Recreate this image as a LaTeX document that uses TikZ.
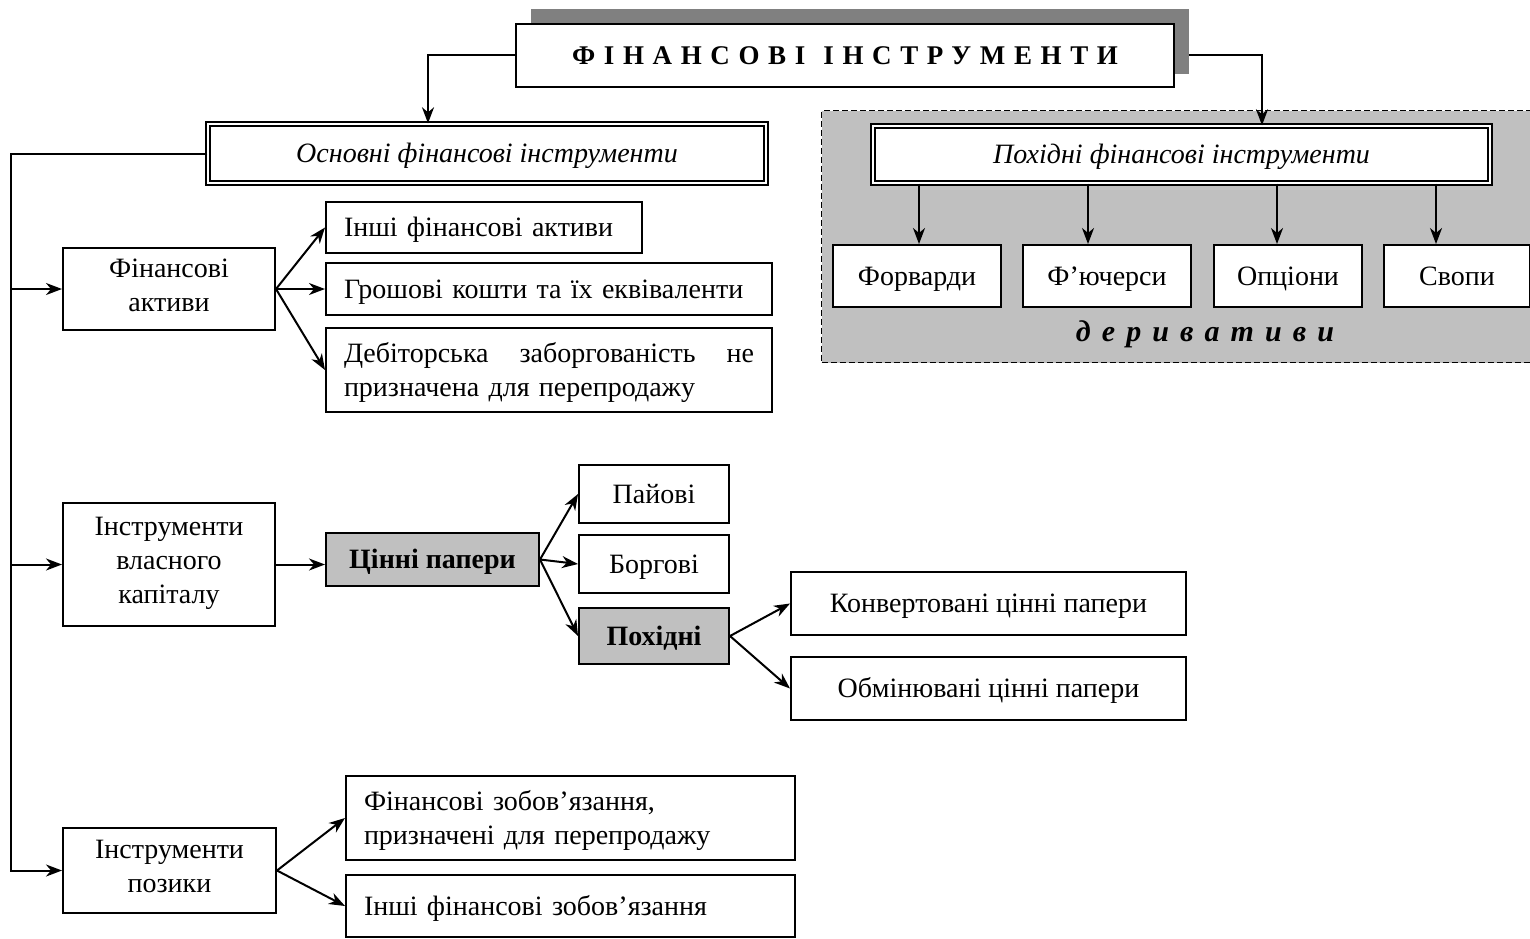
\documentclass[tikz,border=0pt]{standalone}
\usepackage{fontspec}
\setmainfont{Liberation Serif}
\usetikzlibrary{arrows.meta}
\definecolor{areagray}{HTML}{C0C0C0}
\definecolor{boxgray}{HTML}{C0C0C0}
\definecolor{shadowgray}{HTML}{808080}
\newcommand\topstrut{\rule{0pt}{26pt}}
\newcommand\botstrut{\rule[-8pt]{0pt}{8pt}}
\begin{document}
\begin{tikzpicture}[x=1pt,y=-1pt,
  txt/.style={font=\fontsize{28}{34}\selectfont},
  box/.style={draw, line width=2pt, fill=white, inner sep=0pt, txt, align=center,
    execute at begin node=\topstrut, execute at end node=\botstrut},
  lbox/.style={box, align=left},
  gbox/.style={box, fill=boxgray, font=\fontsize{28}{34}\selectfont\bfseries},
  dbl/.style={draw, double, line width=1.4pt, double distance=2.6pt, fill=white, inner sep=0pt,
    font=\fontsize{28}{34}\selectfont\itshape, execute at begin node=\topstrut, execute at end node=\botstrut},
  arr/.style={line width=2pt, -{Stealth[length=16pt,width=12pt,inset=5pt]}}]
\useasboundingbox (0,0) rectangle (1530,938);
% title
\fill[shadowgray] (531,9) rectangle (1189,74);
\node[box, minimum width=658, minimum height=63, font=\fontsize{27}{30}\selectfont\bfseries\addfontfeature{LetterSpace=32}] (title) at (845,55) {ФІНАНСОВІ\hspace{18pt}ІНСТРУМЕНТИ};
% derivative area
\node[draw, line width=1.3pt, dash pattern=on 6pt off 3pt, fill=areagray, minimum width=724, minimum height=252, anchor=north west, inner sep=0pt] (area) at (821,110) {};
\node[dbl, minimum width=617, minimum height=57] (poh) at (1181.5,154.5) {Похідні фінансові інструменти};
\node[box, minimum width=168, minimum height=62] (fw) at (917,276) {Форварди};
\node[box, minimum width=168, minimum height=62] (fu) at (1107,276) {Ф’ючерси};
\node[box, minimum width=148, minimum height=62] (op) at (1288,276) {Опціони};
\node[box, minimum width=146, minimum height=62] (sv) at (1457,276) {Свопи};
\node[font=\fontsize{30}{32}\selectfont\bfseries\itshape\addfontfeature{LetterSpace=37}] (der) at (1205,334) {деривативи};
% main
\node[dbl, minimum width=558, minimum height=59] (osn) at (487,153.5) {Основні фінансові інструменти};
\node[box, minimum width=212, minimum height=82] (fa) at (169,289) {Фінансові\\активи};
\node[lbox, minimum width=316, minimum height=51, text width=280] (ifa) at (484,227.5) {Інші фінансові активи};
\node[lbox, minimum width=446, minimum height=52, text width=410] (gk) at (549,289) {Грошові кошти та їх еквіваленти};
\node[lbox, minimum width=446, minimum height=84, text width=410] (db) at (549,370) {Дебіторська\hfill заборгованість\hfill не\\призначена для перепродажу};
\node[box, minimum width=212, minimum height=123] (ivk) at (169,564.5) {Інструменти\\власного\\капіталу};
\node[gbox, minimum width=213, minimum height=53] (cp) at (432.5,559.5) {Цінні папери};
\node[box, minimum width=150, minimum height=58] (pa) at (654,494) {Пайові};
\node[box, minimum width=150, minimum height=58] (bo) at (654,564) {Боргові};
\node[gbox, minimum width=150, minimum height=56] (ph) at (654,636) {Похідні};
\node[box, minimum width=395, minimum height=63] (ko) at (988.5,603.5) {Конвертовані цінні папери};
\node[box, minimum width=395, minimum height=63] (ob) at (988.5,688.5) {Обмінювані цінні папери};
\node[box, minimum width=213, minimum height=85] (pz) at (169.5,870.5) {Інструменти\\позики};
\node[lbox, minimum width=449, minimum height=84, text width=413] (fz) at (570.5,818) {Фінансові зобов’язання,\\призначені для перепродажу};
\node[lbox, minimum width=449, minimum height=62, text width=413] (iz) at (570.5,906) {Інші фінансові зобов’язання};
\coordinate (bus) at (11,0);
% connectors
\draw[arr] (title.west) -| ([xshift=-59pt]osn.north);
\draw[arr] ([xshift=14pt]title.east) -| ([xshift=80.5pt]poh.north);
\foreach \n/\dx in {fw/2,fu/-19,op/-11,sv/-21}
  \draw[arr] ([xshift=\dx pt]\n.north |- poh.south) -- ([xshift=\dx pt]\n.north);
\draw[arr] (osn.west) -- (osn.west -| bus) -- (bus |- pz.west) -- (pz.west);
\draw[arr] (bus |- fa.west) -- (fa.west);
\draw[arr] (bus |- ivk.west) -- (ivk.west);
\foreach \t in {ifa,gk,db} \draw[arr] (fa.east) -- (\t.west);
\draw[arr] (ivk.east) -- (cp.west |- ivk.east);
\foreach \t in {pa,bo,ph} \draw[arr] (cp.east) -- (\t.west);
\foreach \t in {ko,ob} \draw[arr] (ph.east) -- (\t.west);
\foreach \t in {fz,iz} \draw[arr] (pz.east) -- (\t.west);
\end{tikzpicture}
\end{document}
